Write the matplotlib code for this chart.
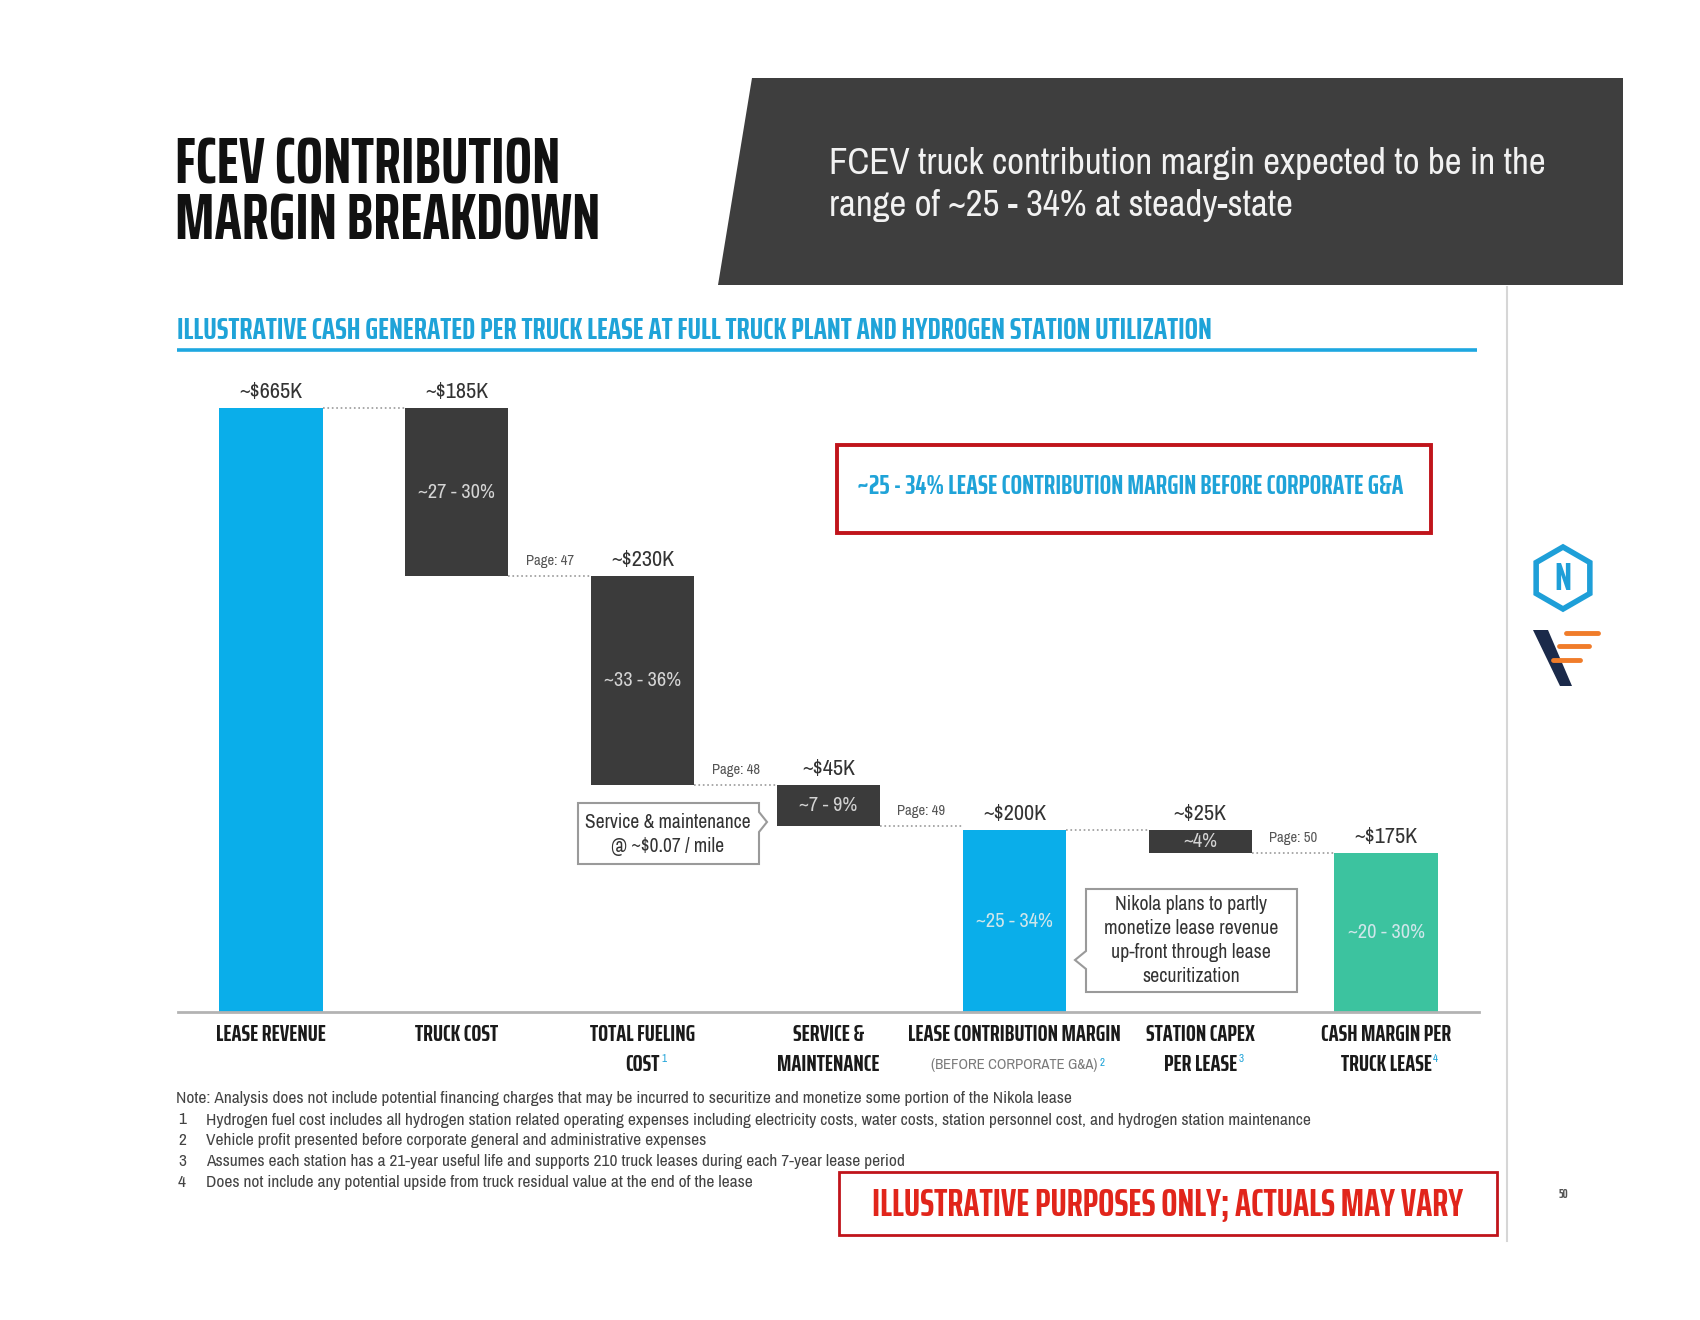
import matplotlib
matplotlib.use('Agg')
import matplotlib.pyplot as plt
from matplotlib.patches import Polygon, Rectangle, RegularPolygon

# ---- data (values in $K per truck lease) ----
categories = ['LEASE REVENUE', 'TRUCK COST', 'TOTAL FUELING', 'SERVICE &',
              'LEASE CONTRIBUTION MARGIN', 'STATION CAPEX', 'CASH MARGIN PER']
categories_line2 = ['', '', 'COST', 'MAINTENANCE', '(BEFORE CORPORATE G&A)',
                    'PER LEASE', 'TRUCK LEASE']
footnote_marks = ['', '', '1', '', '2', '3', '4']
values = [665, 185, 230, 45, 200, 25, 175]
kinds = ['total', 'drop', 'drop', 'drop', 'total', 'drop', 'total']
value_labels = ['~$665K', '~$185K', '~$230K', '~$45K', '~$200K', '~$25K', '~$175K']
pct_labels = ['', '~27 - 30%', '~33 - 36%', '~7 - 9%', '~25 - 34%', '~4%', '~20 - 30%']
page_refs = ['Page: 47', 'Page: 48', 'Page: 49', 'Page: 50']
page_after = [1, 2, 3, 5]

note_lead = ('Note: Analysis does not include potential financing charges that may be '
             'incurred to securitize and monetize some portion of the Nikola lease')
footnotes = [
    'Hydrogen fuel cost includes all hydrogen station related operating expenses including '
    'electricity costs, water costs, station personnel cost, and hydrogen station maintenance',
    'Vehicle profit presented before corporate general and administrative expenses',
    'Assumes each station has a 21-year useful life and supports 210 truck leases during each '
    '7-year lease period',
    'Does not include any potential upside from truck residual value at the end of the lease',
]

# colours
BLUE = '#0aaeea'
DARK = '#3b3b3b'
TEAL = '#3cc39f'
CYAN_TXT = '#1fa3d8'
RED = '#c0141b'
bar_colors = [BLUE, DARK, DARK, DARK, BLUE, DARK, TEAL]

HEAD = ['Saira ExtraCondensed', 'DejaVu Sans']   # bold display caps
NARROW = ['Archivo Narrow', 'DejaVu Sans']       # body text
W, H = 1700, 1320

fig = plt.figure(figsize=(17, 13.2), dpi=100)
fig.patch.set_facecolor('white')

# overlay in pixel coordinates for the slide decoration
ov = fig.add_axes([0, 0, 1, 1])
ov.set_xlim(0, W)
ov.set_ylim(H, 0)
ov.axis('off')

# title (one text block, tight leading)
ov.text(175, 239, 'FCEV CONTRIBUTION\nMARGIN BREAKDOWN', fontsize=46.5, fontweight='bold',
        family=HEAD, color='#111111', va='baseline', linespacing=0.86)

# dark banner
ov.add_patch(Polygon([(752, 78), (1623, 78), (1623, 285), (718, 285)], closed=True,
                     facecolor='#3e3e3e', edgecolor='none'))
ov.text(829, 163, 'FCEV truck contribution margin expected to be in the', fontsize=26.5,
        family=NARROW, color='#f2f2f2', va='center')
ov.text(829, 206, 'range of ~25 - 34% at steady-state', fontsize=26.5,
        family=NARROW, color='#f2f2f2', va='center')

# section header
ov.text(177, 339, 'ILLUSTRATIVE CASH GENERATED PER TRUCK LEASE AT FULL TRUCK PLANT AND '
        'HYDROGEN STATION UTILIZATION', fontsize=22.7, fontweight='bold', family=HEAD,
        color=CYAN_TXT, va='baseline')
ov.plot([177, 1477], [350, 350], color='#1ea7e0', lw=2.6, solid_capstyle='butt')

# right divider and logos
ov.plot([1507, 1507], [287, 1241], color='#d6d6d6', lw=1.5)
ov.add_patch(RegularPolygon((1563, 578), numVertices=6, radius=31, orientation=0,
                            facecolor='white', edgecolor='#1e9fd8', lw=4))
ov.text(1563, 580, 'N', fontsize=28, fontweight='bold', color='#1e9fd8',
        ha='center', va='center', family=HEAD)
ov.add_patch(Polygon([(1533, 630), (1548, 630), (1572, 686), (1560, 686)], closed=True,
                     facecolor='#1b2a4a', edgecolor='none'))
for y0, x0, x1 in [(633, 1566, 1598), (646, 1559, 1589), (660, 1553, 1580)]:
    ov.plot([x0, x1], [y0, y0], color='#f07c2a', lw=3.5, solid_capstyle='round')
ov.text(1563, 1194, '50', fontsize=9, fontweight='bold', color='#555555',
        ha='center', va='center', family=HEAD)

# callout: lease contribution margin
ov.add_patch(Rectangle((837, 445), 594, 88, facecolor='white', edgecolor=RED, lw=2.8))
ov.text(1130, 487, '~25 - 34% LEASE CONTRIBUTION MARGIN BEFORE CORPORATE G&A',
        fontsize=19.8, fontweight='bold', family=HEAD, color=CYAN_TXT,
        ha='center', va='center')

# callout: service & maintenance
ov.add_patch(Polygon([(578, 803), (759, 803), (759, 812), (767, 822), (759, 832),
                      (759, 864), (578, 864)], closed=True, facecolor='white',
                     edgecolor='#9a9a9a', lw=1.5))
ov.text(668, 822, 'Service & maintenance', fontsize=14, family=NARROW,
        color='#333333', ha='center', va='center')
ov.text(668, 846, '@ ~$0.07 / mile', fontsize=14, family=NARROW,
        color='#333333', ha='center', va='center')

# callout: securitization
ov.add_patch(Polygon([(1086, 889), (1297, 889), (1297, 992), (1086, 992), (1086, 969),
                      (1075, 960), (1086, 951)], closed=True, facecolor='white',
                     edgecolor='#9a9a9a', lw=1.5))
for k, line in enumerate(['Nikola plans to partly', 'monetize lease revenue',
                          'up-front through lease', 'securitization']):
    ov.text(1191, 905 + 24 * k, line, fontsize=14.3, family=NARROW, color='#333333',
            ha='center', va='center')

# notes
ov.text(176, 1098, note_lead, fontsize=12.5, family=NARROW, color='#444444', va='center')
for k, line in enumerate(footnotes):
    yy = 1120 + 20.7 * k
    ov.text(178, yy, str(k + 1), fontsize=12.5, family=NARROW, color='#444444', va='center')
    ov.text(206, yy, line, fontsize=12.5, family=NARROW, color='#444444', va='center')

# disclaimer
ov.add_patch(Rectangle((839, 1172), 658, 63, facecolor='white', edgecolor=RED, lw=2))
ov.text(1168, 1205, 'ILLUSTRATIVE PURPOSES ONLY; ACTUALS MAY VARY', fontsize=27.5,
        fontweight='bold', family=HEAD, color='#e1251b', ha='center', va='center')

# ---- waterfall ----
bottoms, tops = [], []
level = 0
for v, k in zip(values, kinds):
    if k == 'total':
        bottoms.append(0)
        tops.append(v)
        level = v
    else:
        tops.append(level)
        bottoms.append(level - v)
        level -= v
heights = [t - b for t, b in zip(tops, bottoms)]
xs = list(range(len(values)))
bw = 0.555

ax = fig.add_axes([178 / W, 1 - 1012 / H, 1301 / W, (1012 - 376.4) / H])
ax.patch.set_alpha(0)
ax.bar(xs, heights, bottom=bottoms, width=bw, color=bar_colors, zorder=2)
ax.set_xlim(-0.5, 6.5)
ax.set_ylim(0, 700)
for s in ['top', 'left', 'right']:
    ax.spines[s].set_visible(False)
ax.spines['bottom'].set_color('#b3b3b3')
ax.spines['bottom'].set_linewidth(2)
ax.set_xticks([])
ax.set_yticks([])

# connectors
for i in range(len(values) - 1):
    lvl = bottoms[i] if kinds[i] == 'drop' else tops[i]
    ax.plot([i + bw / 2, i + 1 - bw / 2], [lvl, lvl], ls=':', color='#9a9a9a', lw=1.2,
            zorder=1)

# value and percentage labels
for i in xs:
    ax.annotate(value_labels[i], (i, tops[i]), xytext=(0, 11.5), textcoords='offset points',
                ha='center', va='center', fontsize=16, family=NARROW, color='#333333')
    if pct_labels[i]:
        c = '#d4d4d4' if bar_colors[i] == DARK else '#cfe6ea'
        ax.text(i, (tops[i] + bottoms[i]) / 2, pct_labels[i], ha='center', va='center',
                fontsize=14.7, family=NARROW, color=c, zorder=3)

for lab, i in zip(page_refs, page_after):
    lvl = bottoms[i] if kinds[i] == 'drop' else tops[i]
    ax.annotate(lab, (i + 0.5, lvl), xytext=(0, 11), textcoords='offset points',
                ha='center', va='center', fontsize=10.5, family=NARROW, color='#555555')

# category labels
tr = ax.get_xaxis_transform()
line2_texts = []
for i in xs:
    ax.text(i, -0.0362, categories[i], transform=tr, ha='center', va='center',
            fontsize=17, fontweight='bold', family=HEAD, color='#1a1a1a', clip_on=False)
    if categories_line2[i]:
        if categories_line2[i].startswith('('):
            t = ax.text(i, -0.0834, categories_line2[i], transform=tr, ha='center',
                        va='center', fontsize=10.6, family=NARROW, color='#7a7a7a',
                        clip_on=False)
        else:
            t = ax.text(i, -0.0834, categories_line2[i], transform=tr, ha='center',
                        va='center', fontsize=17, fontweight='bold', family=HEAD,
                        color='#1a1a1a', clip_on=False)
        line2_texts.append((t, footnote_marks[i]))

fig.canvas.draw()
r = fig.canvas.get_renderer()
for t, mark in line2_texts:
    if mark:
        bb = t.get_window_extent(r)
        fig.text(bb.x1 / fig.bbox.width + 0.001, bb.y1 / fig.bbox.height, mark,
                 fontsize=8, color=CYAN_TXT, va='top', family=NARROW)

fig.savefig('out.png', dpi=100, facecolor='white')
